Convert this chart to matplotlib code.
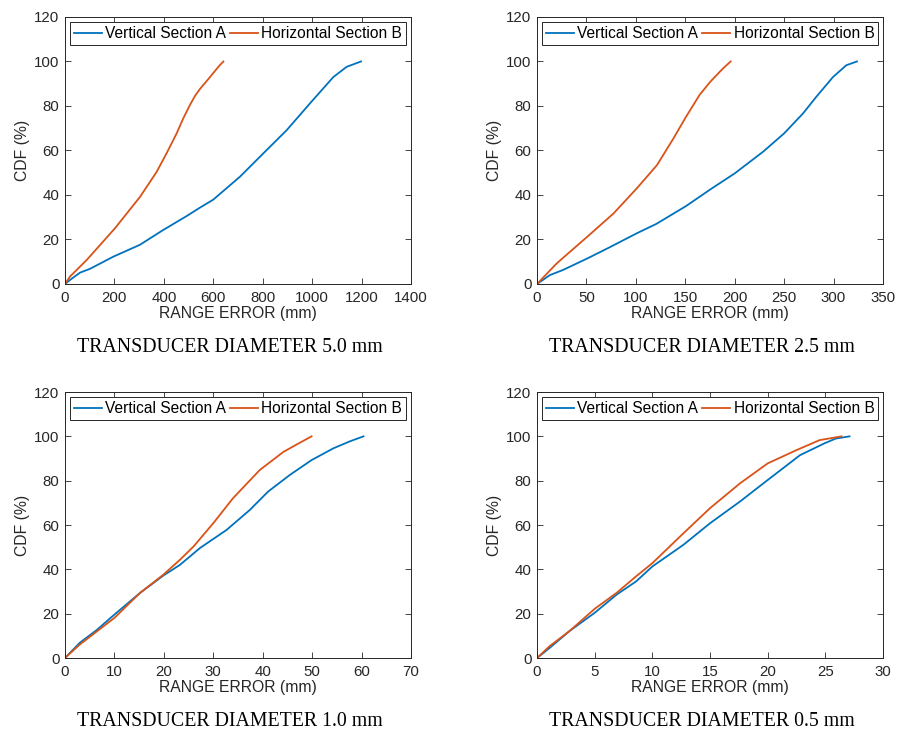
import numpy as np
import matplotlib
matplotlib.use("Agg")
import matplotlib.pyplot as plt

plt.rcParams['font.family'] = ['Liberation Sans', 'DejaVu Sans']

BLUE = '#0072BD'
ORANGE = '#D95319'
GRAY = '#262626'

# values (range error, CDF %)
d50_a_x = [0, 25, 61, 101, 196, 303, 398, 492, 546, 600, 708, 800, 897, 998, 1086, 1140, 1198]
d50_a_y = [0, 2.2, 5.1, 6.8, 12.3, 17.6, 24.3, 30.5, 34.3, 37.9, 48.2, 58.4, 69.1, 82, 93, 97.6, 100]
d50_b_x = [0, 20, 88, 202, 304, 371, 411, 452, 479, 506, 526, 546, 587, 620, 641]
d50_b_y = [0, 3.3, 10.8, 25, 39.2, 50.4, 58.7, 67.7, 74.5, 80.5, 84.5, 87.6, 93, 97.5, 100]

d25_a_x = [0, 13, 26.3, 51, 73.5, 101, 120.7, 150.7, 175.3, 200, 228.6, 249.8, 269, 282.5, 299.4, 312.9, 323.7]
d25_a_y = [0, 4, 6.3, 11.5, 16.5, 22.8, 27, 35, 42.5, 49.7, 59.4, 67.6, 76.6, 84.1, 93, 98.3, 100]
d25_b_x = [0, 20, 51, 77.4, 101, 121.3, 138, 150.7, 164.5, 175.3, 188, 195.9]
d25_b_y = [0, 9.3, 21.3, 31.7, 43, 53.4, 65.4, 75.1, 85, 90.9, 96.8, 100]

d10_a_x = [0, 3, 6.4, 10, 15.2, 19.9, 23.3, 27.3, 32.7, 37.4, 41.1, 45.5, 49.9, 54.3, 57.7, 60.4]
d10_a_y = [0, 6.9, 12.6, 19.6, 29.4, 37.2, 42.1, 49.6, 57.8, 66.8, 75.1, 82.6, 89.3, 94.6, 97.8, 100]
d10_b_x = [0, 3, 10, 15.2, 19.9, 23.3, 26, 30, 34, 39.4, 44.2, 47.5, 49.9]
d10_b_y = [0, 6.1, 18.1, 29.4, 37.6, 44.4, 50.3, 60.8, 72.1, 84.8, 93, 97.1, 100]

d05_a_x = [0, 1.1, 2.8, 5, 6.9, 8.6, 10, 12.7, 15, 17.6, 20, 22.8, 24.9, 25.9, 27.1]
d05_a_y = [0, 4.6, 12.1, 20.4, 28.6, 34.6, 41.3, 51.1, 60.8, 70.6, 80.3, 91.5, 96.8, 99, 100]
d05_b_x = [0, 1.1, 2.8, 5, 6.9, 8.6, 10, 12.7, 15, 17.6, 20, 22.5, 24.5, 26.4]
d05_b_y = [0, 5.4, 12.1, 22.2, 29.4, 36.9, 42.8, 56.3, 67.6, 78.8, 87.8, 93.8, 98.3, 100]

panels = [
    (d50_a_x, d50_a_y, d50_b_x, d50_b_y, 1400, 200, 'TRANSDUCER DIAMETER 5.0 mm'),
    (d25_a_x, d25_a_y, d25_b_x, d25_b_y, 350, 50, 'TRANSDUCER DIAMETER 2.5 mm'),
    (d10_a_x, d10_a_y, d10_b_x, d10_b_y, 70, 10, 'TRANSDUCER DIAMETER 1.0 mm'),
    (d05_a_x, d05_a_y, d05_b_x, d05_b_y, 30, 5, 'TRANSDUCER DIAMETER 0.5 mm'),
]

positions = [
    [0.0722, 0.6131, 0.3844, 0.3638],
    [0.5967, 0.6131, 0.3844, 0.3638],
    [0.0722, 0.1035, 0.3844, 0.3624],
    [0.5967, 0.1035, 0.3844, 0.3624],
]
caption_xy = [(230, 348), (702, 348), (230, 722), (702, 722)]

fig = plt.figure(figsize=(9, 7.34), dpi=100)

for (ax_x, ax_y, bx, by, xmax, xstep, cap), pos, (cx, cy) in zip(panels, positions, caption_xy):
    ax = fig.add_axes(pos)
    ax.plot(ax_x, ax_y, color=BLUE, lw=1.3, label='Vertical Section A')
    ax.plot(bx, by, color=ORANGE, lw=1.3, label='Horizontal Section B')
    ax.set_xlim(0, xmax)
    ax.set_ylim(0, 120)
    ax.set_xticks(np.arange(0, xmax + xstep / 2, xstep))
    ax.set_yticks(np.arange(0, 121, 20))
    ax.tick_params(direction='in', top=True, right=True, length=4, width=0.6,
                   labelsize=10.8, colors=GRAY)
    ax.tick_params(axis='x', pad=5)
    ax.tick_params(axis='y', pad=4)
    for s in ax.spines.values():
        s.set_color(GRAY)
        s.set_linewidth(0.7)
    ax.set_xlabel('RANGE ERROR (mm)', fontsize=11.3, color=GRAY, labelpad=1)
    ax.set_ylabel('CDF (%)', fontsize=11.3, color=GRAY, labelpad=3)
    leg = ax.legend(loc='upper center', ncol=2, fontsize=11.2, fancybox=False,
                    framealpha=1, edgecolor=GRAY, borderaxespad=0.35,
                    handlelength=1.8, handletextpad=0.2, columnspacing=0.3,
                    borderpad=0.25)
    leg.get_frame().set_linewidth(0.7)
    fig.text(cx / 900, 1 - cy / 734, cap, ha='center', va='center',
             fontsize=14.3, family=['Liberation Serif', 'DejaVu Serif'], color='black')

fig.savefig('out.png', dpi=100)
